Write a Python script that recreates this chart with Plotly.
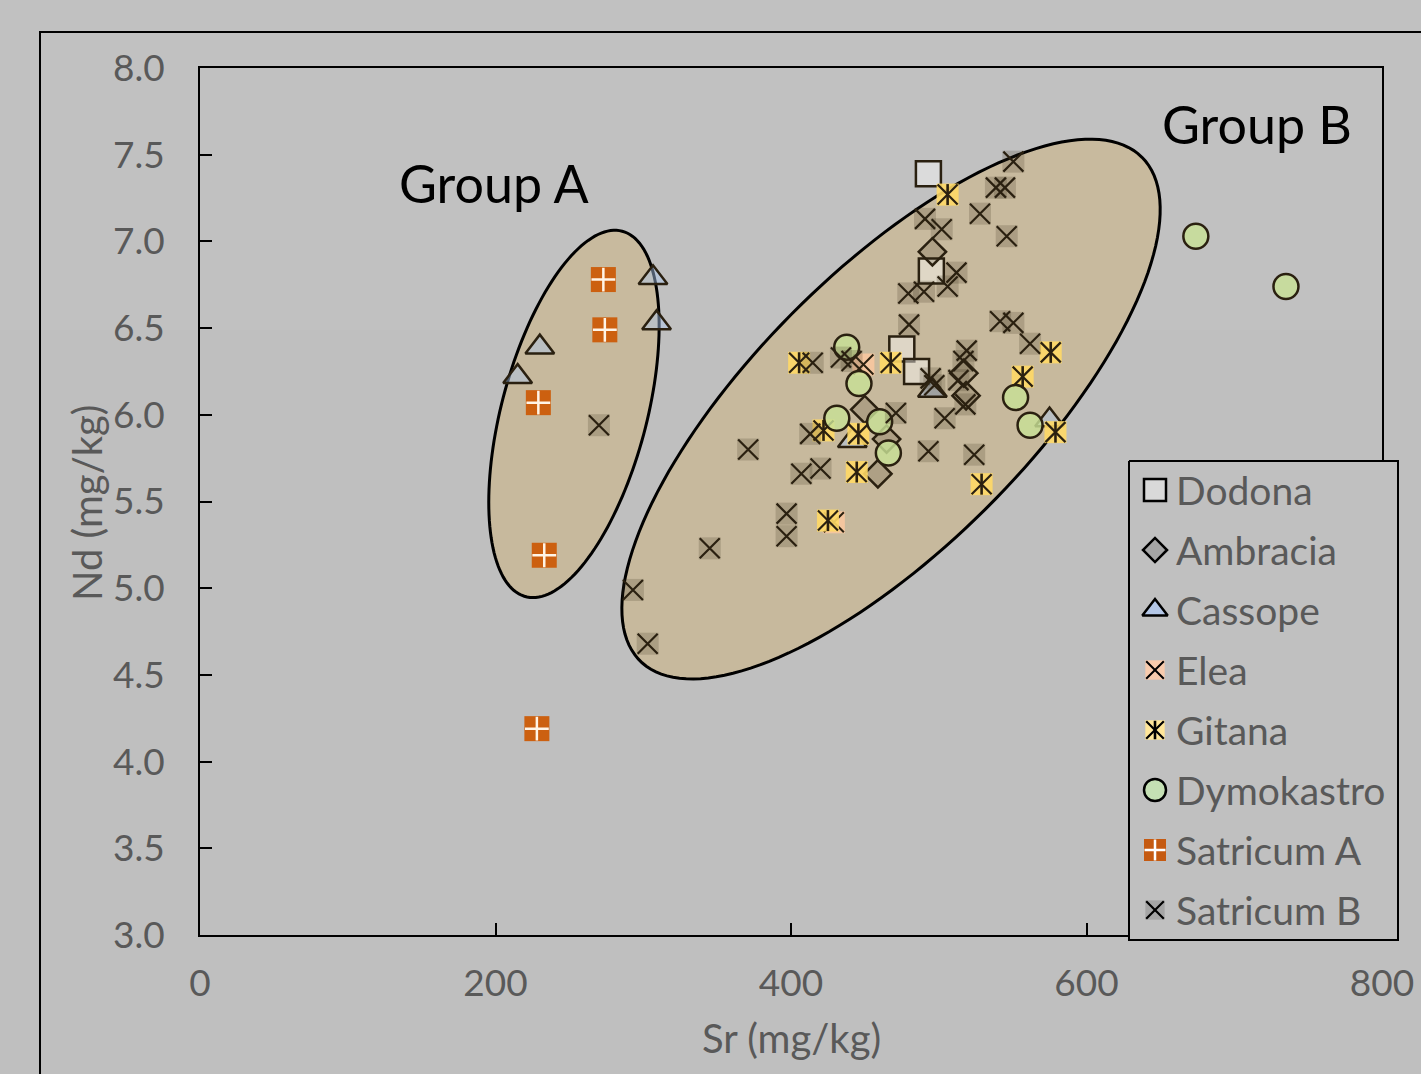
import numpy as np
import plotly.graph_objects as go

# ---------------------------------------------------------------
# Sr vs Nd concentrations (mg/kg) for each site
# ---------------------------------------------------------------
dodona_sr = [493, 495, 475, 485]
dodona_nd = [7.39, 6.83, 6.38, 6.25]

ambracia_sr = [495.7, 449.9, 464.7, 458.8, 517.0, 518.5]
ambracia_nd = [6.94, 6.03, 5.86, 5.66, 6.24, 6.11]

cassope_sr = [306.6, 309.0, 230.0, 215.0, 495.7, 441.5, 575.0]
cassope_nd = [6.79, 6.53, 6.39, 6.22, 6.14, 5.85, 5.97]

elea_sr = [449.0, 429.0]
elea_nd = [6.29, 5.38]

gitana_sr = [506.0, 405.5, 467.5, 422.0, 445.6, 444.5, 425.0, 556.8, 575.8, 579.0, 529.0]
gitana_nd = [7.27, 6.30, 6.30, 5.91, 5.89, 5.67, 5.39, 6.22, 6.36, 5.90, 5.60]

dymokastro_sr = [437.7, 446.0, 431.0, 460.0, 465.9, 552.0, 561.8, 674.0, 735.0]
dymokastro_nd = [6.39, 6.18, 5.98, 5.96, 5.78, 6.10, 5.94, 7.03, 6.74]

satricum_a_sr = [273.0, 274.0, 229.0, 233.0, 228.0]
satricum_a_nd = [6.78, 6.49, 6.07, 5.19, 4.19]

satricum_b_sr = [270.0, 371.0, 413.0, 420.0, 407.0, 397.0, 397.0, 345.0, 293.0, 303.0,
                 414.7, 433.8, 441.0, 471.0, 493.0, 494.5, 497.0, 504.0, 524.0,
                 518.9, 516.7, 513.3, 518.0, 561.8,
                 550.5, 538.7, 544.8, 527.9, 546.0, 490.7, 502.0, 512.0, 506.0,
                 479.4, 490.0, 479.9, 541.5, 550.5]
satricum_b_nd = [5.94, 5.80, 5.89, 5.69, 5.66, 5.43, 5.30, 5.23, 4.99, 4.68,
                 6.30, 6.33, 6.31, 6.01, 5.79, 6.21, 6.17, 5.98, 5.77,
                 6.37, 6.31, 6.20, 6.06, 6.41,
                 7.46, 7.31, 7.31, 7.16, 7.03, 7.13, 7.07, 6.82, 6.74,
                 6.70, 6.71, 6.52, 6.54, 6.53]

series_names = ["Dodona", "Ambracia", "Cassope", "Elea", "Gitana",
                "Dymokastro", "Satricum A", "Satricum B"]

x_ticks = [0, 200, 400, 600, 800]
y_ticks = [3.0, 3.5, 4.0, 4.5, 5.0, 5.5, 6.0, 6.5, 7.0, 7.5, 8.0]

# ---------------------------------------------------------------
# Geometry and styling
# ---------------------------------------------------------------
FIG_W, FIG_H = 1421, 1074
PLOT_L, PLOT_R, PLOT_T, PLOT_B = 200, 1382, 68, 935
X_RANGE = [0, 800]
Y_RANGE = [3.0, 8.0]
PX_PER_SR = (PLOT_R - PLOT_L) / (X_RANGE[1] - X_RANGE[0])
PX_PER_ND = (PLOT_B - PLOT_T) / (Y_RANGE[1] - Y_RANGE[0])

INK = "#2a2010"
GREY_TEXT = "#595959"
BG = "#bfbfbf"
FONT = "Lato"

# each series is a stack of marker layers:
# (symbol, size, colour in plot, colour in legend, line colour, line width)
styles = {
    "Dodona": [("square", 25, "rgba(255,255,255,0.42)", "#d9d9d9", INK, 2.5)],
    "Ambracia": [("diamond", 21, "rgba(60,50,30,0.18)", "#a6a6a6", INK, 2.5)],
    "Cassope": [("triangle-up", 25, "rgba(170,200,240,0.45)", "#b4c7e7", INK, 2.5)],
    "Elea": [("square", 22, "rgba(248,200,160,0.9)", "#f8cbad", None, 0),
             ("x-thin-open", 20, INK, "black", INK, 2)],
    "Gitana": [("square", 22, "rgba(255,217,102,0.9)", "#ffe699", None, 0),
               ("x-thin-open", 20, INK, "black", INK, 2.2),
               ("line-ns-open", 15, INK, "black", INK, 2.6)],
    "Dymokastro": [("circle", 25, "rgba(200,225,150,0.82)", "#c5e0b4", INK, 2.5)],
    "Satricum A": [("square", 25, "#cc6010", "#c55a11", None, 0),
                   ("cross-thin-open", 17, "#fff4e6", "white", None, 2.5)],
    "Satricum B": [("square", 22, "rgba(60,50,30,0.2)", "#a5a5a5", None, 0),
                   ("x-thin-open", 20, INK, "black", INK, 2.2)],
}

data = {
    "Dodona": (dodona_sr, dodona_nd),
    "Ambracia": (ambracia_sr, ambracia_nd),
    "Cassope": (cassope_sr, cassope_nd),
    "Elea": (elea_sr, elea_nd),
    "Gitana": (gitana_sr, gitana_nd),
    "Dymokastro": (dymokastro_sr, dymokastro_nd),
    "Satricum A": (satricum_a_sr, satricum_a_nd),
    "Satricum B": (satricum_b_sr, satricum_b_nd),
}

fig = go.Figure()


def add_layers(name, xs, ys, legend=False, scale=1.0):
    xaxis, yaxis = ("x2", "y2") if legend else ("x", "y")
    for symbol, size, colour, legend_colour, line_colour, line_width in styles[name]:
        fill = legend_colour if legend else colour
        stroke = line_colour if line_colour else fill
        if legend and line_colour:
            stroke = "black"
        fig.add_trace(go.Scatter(
            x=xs, y=ys, mode="markers", name=name, xaxis=xaxis, yaxis=yaxis,
            showlegend=False, hoverinfo="skip" if legend else "x+y+name",
            cliponaxis=False,
            marker=dict(symbol=symbol, size=size * scale, color=fill,
                        line=dict(color=stroke, width=line_width)),
        ))


for name in series_names:
    xs, ys = data[name]
    add_layers(name, xs, ys)

# ---------------------------------------------------------------
# Legend, drawn on a full-figure overlay in pixel units
# ---------------------------------------------------------------
LEG_L, LEG_R, LEG_T, LEG_B = 1129, 1398, 461, 940
LEG_ROW0, LEG_STEP = 490, 60
LEG_SYM_X, LEG_TEXT_X = 1155, 1174

fig.add_trace(go.Scatter(
    x=[LEG_L, LEG_R, LEG_R, LEG_L, LEG_L], y=[LEG_T, LEG_T, LEG_B, LEG_B, LEG_T],
    xaxis="x2", yaxis="y2", mode="lines", fill="toself", fillcolor="#c0c0c0",
    line=dict(color="black", width=2), showlegend=False, hoverinfo="skip",
))

annotations = []
for i, name in enumerate(series_names):
    row_y = LEG_ROW0 + i * LEG_STEP
    add_layers(name, [LEG_SYM_X], [row_y], legend=True, scale=0.88)
    annotations.append(dict(
        x=LEG_TEXT_X, y=row_y, xref="x2", yref="y2", text=name, showarrow=False,
        xanchor="left", yanchor="middle",
        font=dict(family=FONT, size=39, color=GREY_TEXT),
    ))

# ---------------------------------------------------------------
# Group ellipses
# ---------------------------------------------------------------


def ellipse_path(cx, cy, a_px, b_px, angle_deg, n=160):
    """Rotated ellipse in screen pixels, returned as a path in data units."""
    t = np.linspace(0, 2 * np.pi, n)
    th = np.radians(angle_deg)
    dx = a_px * np.cos(t) * np.cos(th) - b_px * np.sin(t) * np.sin(th)
    dy = a_px * np.cos(t) * np.sin(th) + b_px * np.sin(t) * np.cos(th)
    xs = cx + dx / PX_PER_SR
    ys = cy + dy / PX_PER_ND
    return "M " + " L ".join(f"{x:.3f},{y:.4f}" for x, y in zip(xs, ys)) + " Z"


ellipse_fill = "rgba(205,180,130,0.55)"
shapes = [
    # lighter upper band of the backdrop
    dict(type="rect", xref="paper", yref="paper", x0=0, x1=1, y0=1 - 330 / FIG_H, y1=1,
         fillcolor="rgba(255,255,255,0.045)", line=dict(width=0), layer="below"),
    # outer frame
    dict(type="rect", xref="paper", yref="paper", x0=40 / FIG_W, x1=1.02,
         y0=-0.02, y1=1 - 32 / FIG_H, line=dict(color="black", width=2),
         fillcolor="rgba(0,0,0,0)", layer="below"),
    dict(type="path", xref="x", yref="y", path=ellipse_path(253.1, 6.005, 189, 72.6, 75.2),
         fillcolor=ellipse_fill, line=dict(color="black", width=3), layer="below"),
    dict(type="path", xref="x", yref="y", path=ellipse_path(467.7, 6.033, 355.5, 137.5, 45.1),
         fillcolor=ellipse_fill, line=dict(color="black", width=3), layer="below"),
]

annotations += [
    dict(x=199, y=7.337, xref="x", yref="y", text="Group A", showarrow=False,
         xanchor="center", yanchor="middle",
         font=dict(family=FONT, size=52, color="black")),
    dict(x=715.4, y=7.677, xref="x", yref="y", text="Group B", showarrow=False,
         xanchor="center", yanchor="middle",
         font=dict(family=FONT, size=52, color="black")),
    dict(x=791 / FIG_W, y=1 - 1038 / FIG_H, xref="paper", yref="paper",
         text="Sr (mg/kg)", showarrow=False, xanchor="center", yanchor="middle",
         font=dict(family=FONT, size=40, color=GREY_TEXT)),
    dict(x=87 / FIG_W, y=1 - 503 / FIG_H, xref="paper", yref="paper",
         text="Nd (mg/kg)", showarrow=False, textangle=-90,
         xanchor="center", yanchor="middle",
         font=dict(family=FONT, size=40, color=GREY_TEXT)),
]

axis_common = dict(
    showgrid=False, zeroline=False, showline=True, linecolor="black", linewidth=2,
    mirror=True, ticks="inside", ticklen=12, tickwidth=2, tickcolor="black",
    tickfont=dict(family=FONT, size=37, color=GREY_TEXT), fixedrange=True,
    automargin=False,
)

fig.update_layout(
    width=FIG_W, height=FIG_H, autosize=False,
    margin=dict(l=0, r=0, t=0, b=0, pad=0, autoexpand=False),
    paper_bgcolor=BG, plot_bgcolor="rgba(0,0,0,0)",
    showlegend=False,
    xaxis=dict(domain=[PLOT_L / FIG_W, PLOT_R / FIG_W], range=X_RANGE,
               tickvals=x_ticks, ticklabelstandoff=15, anchor="y", **axis_common),
    yaxis=dict(domain=[1 - PLOT_B / FIG_H, 1 - PLOT_T / FIG_H], range=Y_RANGE,
               tickvals=y_ticks, tickformat=".1f", ticklabelstandoff=26,
               anchor="x", **axis_common),
    xaxis2=dict(domain=[0, 1], range=[0, FIG_W], visible=False, anchor="y2",
                fixedrange=True),
    yaxis2=dict(domain=[0, 1], range=[FIG_H, 0], visible=False, anchor="x2",
                fixedrange=True),
    shapes=shapes,
    annotations=annotations,
)

fig.write_html("out.html")
